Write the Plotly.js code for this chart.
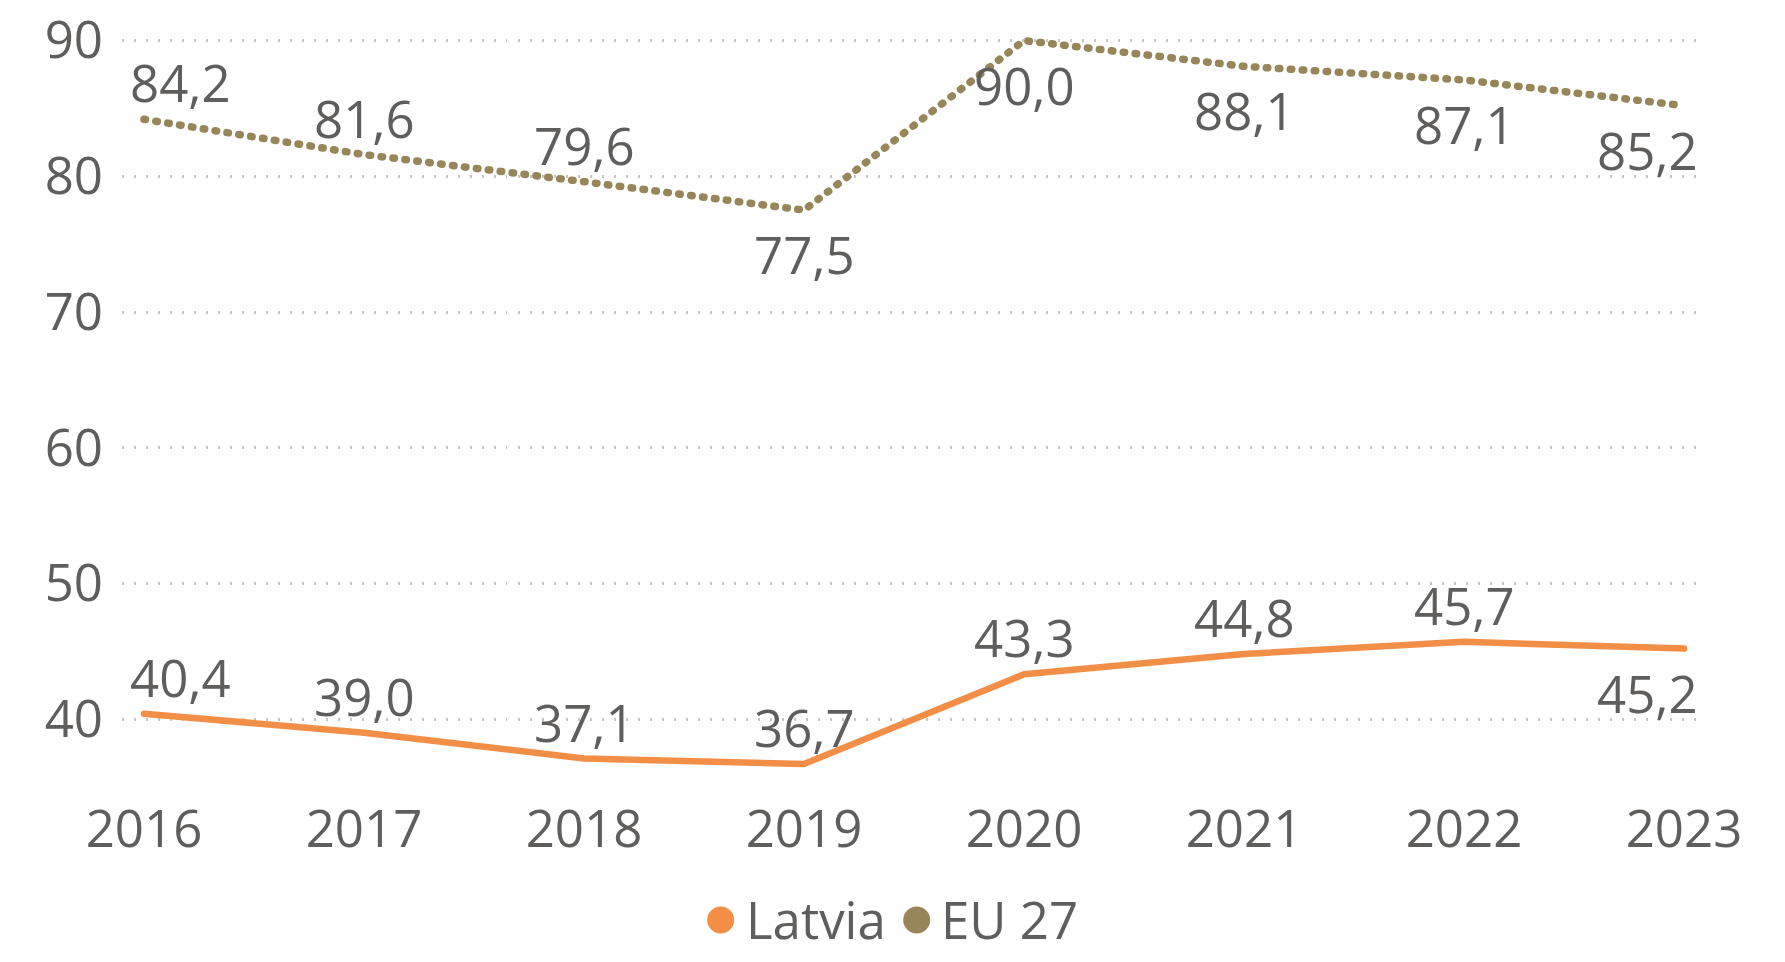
<!DOCTYPE html>
<html>
<head>
<meta charset="utf-8">
<script src="https://cdn.plot.ly/plotly-3.0.1.min.js"></script>
<style>
  html, body { margin: 0; padding: 0; background: #ffffff; }
  #chart { width: 1785px; height: 962px; }
  .scatterlayer .js-line { stroke-linecap: round; stroke-linejoin: round; }
</style>
</head>
<body>
<div id="chart"></div>
<script>
// ---- data ----
const years = [2016, 2017, 2018, 2019, 2020, 2021, 2022, 2023];
const latvia = [40.4, 39.0, 37.1, 36.7, 43.3, 44.8, 45.7, 45.2];
const eu27 = [84.2, 81.6, 79.6, 77.5, 90.0, 88.1, 87.1, 85.2];
const seriesNames = ["Latvia", "EU 27"];
const yTicks = [40, 50, 60, 70, 80, 90];

// label placement (1 = above, -1 = below)
const latviaLabelSide = [1, 1, 1, 1, 1, 1, 1, -1];
const euLabelSide = [1, 1, 1, -1, -1, -1, -1, -1];

const textColor = "#605E5C";
const orange = "#F28E45";
const olive = "#978659";
const fontFamily = "'Open Sans', 'Noto Sans', sans-serif";
const fs = 51;

const fmt = v => v.toFixed(1).replace('.', ',');

function labelAnnotations(values, sides) {
  return values.map((v, i) => {
    const last = i === values.length - 1;
    const first = i === 0;
    return {
      x: years[i], y: v, xref: 'x', yref: 'y',
      text: fmt(v), showarrow: false,
      font: { family: fontFamily, size: fs, color: textColor },
      xanchor: first ? 'left' : (last ? 'right' : 'center'),
      xshift: first ? -16 : (last ? 16 : 0),
      yanchor: 'middle',
      yshift: sides[i] > 0 ? 37 : -44
    };
  });
}

const traces = [
  {
    x: years, y: latvia, name: seriesNames[0], type: 'scatter', mode: 'lines',
    line: { color: orange, width: 6.5 }, showlegend: false, hoverinfo: 'x+y'
  },
  {
    x: years, y: eu27, name: seriesNames[1], type: 'scatter', mode: 'lines',
    line: { color: olive, width: 7.5, dash: '1.5px,10.5px' }, showlegend: false, hoverinfo: 'x+y'
  }
];

const L = 122, R = 85, T = 27, B = 175, W = 1785, H = 962;
const plotW = W - L - R;
const pxToPaperX = px => (px - L) / plotW;
const plotH = H - T - B;
const pxToPaperY = py => (H - B - py) / plotH;

const legendY = pxToPaperY(919);
const legendItems = [
  { name: seriesNames[0], color: orange, cx: 720.7, tx: 744 },
  { name: seriesNames[1], color: olive, cx: 916.7, tx: 939 }
];

const annotations = [
  ...labelAnnotations(latvia, latviaLabelSide),
  ...labelAnnotations(eu27, euLabelSide),
  ...legendItems.map(it => ({
    xref: 'paper', yref: 'paper', x: pxToPaperX(it.tx), y: legendY,
    xanchor: 'left', yanchor: 'middle', showarrow: false, text: it.name,
    font: { family: fontFamily, size: fs, color: textColor }
  }))
];

const shapes = legendItems.map(it => ({
  type: 'circle', xref: 'paper', yref: 'paper',
  xsizemode: 'pixel', ysizemode: 'pixel',
  xanchor: pxToPaperX(it.cx), yanchor: pxToPaperY(920),
  x0: -13.5, x1: 13.5, y0: -13.5, y1: 13.5,
  fillcolor: it.color, line: { width: 0 }
}));

const layout = {
  width: W, height: H,
  margin: { l: L, r: R, t: T, b: B, pad: 0 },
  paper_bgcolor: '#ffffff', plot_bgcolor: '#ffffff',
  font: { family: fontFamily, size: fs, color: textColor },
  showlegend: false,
  xaxis: {
    type: 'linear',
    range: [2015.9, 2015.9 + plotW / 220],
    tickvals: years, ticktext: years.map(String),
    showgrid: false, zeroline: false, showline: false, ticks: '',
    ticklabelstandoff: 8,
    tickfont: { family: fontFamily, size: fs, color: textColor },
    fixedrange: true
  },
  yaxis: {
    range: [35, 91],
    tickvals: yTicks, ticktext: yTicks.map(String),
    showgrid: true, gridcolor: '#C8C6C4', gridwidth: 3, griddash: '1.5px,10.5px',
    zeroline: false, showline: false, ticks: '',
    ticklabelstandoff: 18,
    tickfont: { family: fontFamily, size: fs, color: textColor },
    fixedrange: true
  },
  annotations: annotations,
  shapes: shapes
};

Plotly.newPlot('chart', traces, layout, { displayModeBar: false, staticPlot: true });
</script>
</body>
</html>
